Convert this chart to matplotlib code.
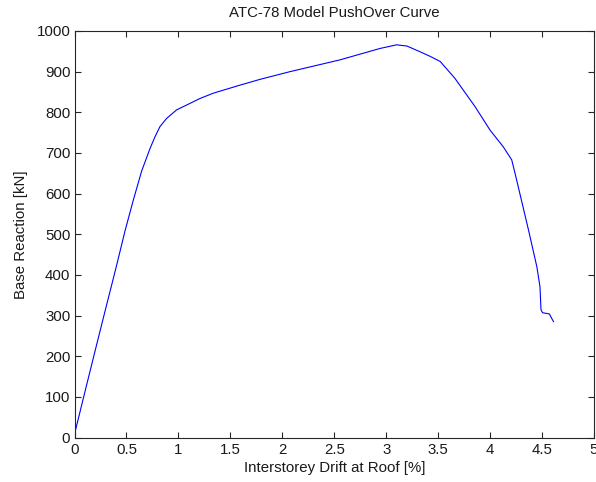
import matplotlib
matplotlib.use("Agg")
import matplotlib.pyplot as plt

# Pushover curve: roof drift [%] vs base reaction [kN]
drift = [0, 0.1, 0.2, 0.3, 0.4, 0.486, 0.566, 0.647, 0.727,
         0.775, 0.823, 0.887, 0.983, 1.08, 1.208, 1.336, 1.465, 1.595, 1.785,
         2.074, 2.555, 2.94, 3.10, 3.20, 3.325, 3.42, 3.52, 3.66, 3.855, 4.0,
         4.127, 4.208, 4.24, 4.37, 4.45, 4.48, 4.49, 4.505, 4.57, 4.61]
reaction = [8, 112, 215, 317, 418, 508, 584, 656, 711,
            740, 765, 785, 806, 818, 834, 847, 857, 867, 881,
            900, 929, 957, 966, 963, 949, 938, 925, 884, 814, 756,
            715, 683, 650, 510, 420, 371, 314, 307, 304, 285]

x_ticks = [0, 0.5, 1, 1.5, 2, 2.5, 3, 3.5, 4, 4.5, 5]
x_tick_labels = ["0", "0.5", "1", "1.5", "2", "2.5", "3", "3.5", "4", "4.5", "5"]
y_ticks = list(range(0, 1001, 100))

plt.rcParams["font.family"] = ["Liberation Sans", "DejaVu Sans"]
plt.rcParams["font.size"] = 10.8

fig = plt.figure(figsize=(5.96, 4.82), dpi=100)
ax = fig.add_axes([74.5 / 596, 1 - 437.5 / 482, 519.5 / 596, 406.5 / 482])

ax.plot(drift, reaction, color="#0000ff", linewidth=0.8)

ax.set_xlim(0, 5)
ax.set_ylim(0, 1000)
ax.set_xticks(x_ticks)
ax.set_xticklabels(x_tick_labels)
ax.set_yticks(y_ticks)
ax.tick_params(direction="in", top=True, right=True, length=4, width=0.8,
               colors="#262626", labelcolor="#1a1a1a")
ax.tick_params(axis="x", pad=4)
ax.tick_params(axis="y", pad=3)
for side in ax.spines.values():
    side.set_color("#262626")
    side.set_linewidth(0.8)

ax.set_title("ATC-78 Model PushOver Curve", fontsize=10.8, color="#1a1a1a", pad=10)
ax.set_xlabel("Interstorey Drift at Roof [%]", color="#1a1a1a", labelpad=3)
ax.set_ylabel("Base Reaction [kN]", color="#1a1a1a", labelpad=6)

fig.savefig("out.png", dpi=100, facecolor="white")
